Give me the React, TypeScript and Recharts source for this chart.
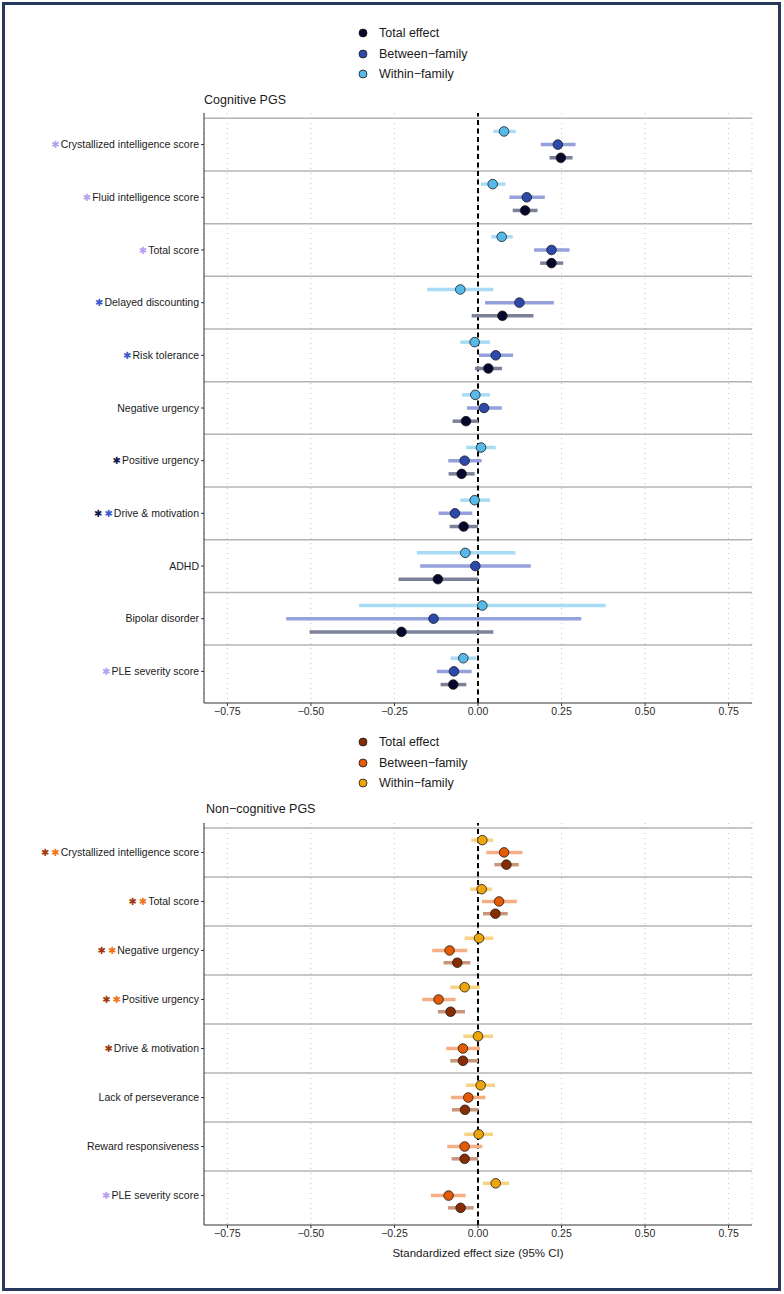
import { ScatterChart, Scatter, XAxis, YAxis, CartesianGrid, ReferenceLine, ErrorBar } from "recharts"

// outcomes, top row first
const cogOutcomes = [
  "Crystallized intelligence score",
  "Fluid intelligence score",
  "Total score",
  "Delayed discounting",
  "Risk tolerance",
  "Negative urgency",
  "Positive urgency",
  "Drive & motivation",
  "ADHD",
  "Bipolar disorder",
  "PLE severity score",
]
const cogStars = [["p"], ["p"], ["p"], ["b"], ["b"], [], ["n"], ["n", "b"], [], [], ["p"]]

// [estimate, lower, upper]
const cogTotal = [
  [0.248, 0.214, 0.283], [0.141, 0.104, 0.178], [0.22, 0.186, 0.255], [0.073, -0.019, 0.166],
  [0.031, -0.009, 0.072], [-0.036, -0.076, 0.0], [-0.049, -0.088, -0.01], [-0.043, -0.085, 0.0],
  [-0.12, -0.238, 0.0], [-0.229, -0.504, 0.046], [-0.074, -0.112, -0.035],
]
const cogBetween = [
  [0.239, 0.188, 0.292], [0.146, 0.094, 0.2], [0.22, 0.168, 0.274], [0.124, 0.021, 0.227],
  [0.053, 0.003, 0.105], [0.018, -0.033, 0.071], [-0.04, -0.089, 0.011], [-0.069, -0.118, -0.017],
  [-0.008, -0.173, 0.158], [-0.133, -0.574, 0.309], [-0.072, -0.123, -0.019],
]
const cogWithin = [
  [0.078, 0.046, 0.113], [0.044, 0.009, 0.082], [0.071, 0.04, 0.104], [-0.053, -0.152, 0.046],
  [-0.01, -0.053, 0.036], [-0.008, -0.048, 0.036], [0.009, -0.035, 0.053], [-0.01, -0.053, 0.036],
  [-0.038, -0.183, 0.112], [0.013, -0.356, 0.382], [-0.044, -0.082, -0.005],
]

const nonOutcomes = [
  "Crystallized intelligence score",
  "Total score",
  "Negative urgency",
  "Positive urgency",
  "Drive & motivation",
  "Lack of perseverance",
  "Reward responsiveness",
  "PLE severity score",
]
const nonStars = [["r", "o"], ["r", "o"], ["r", "o"], ["r", "o"], ["r"], [], [], ["p"]]

const nonTotal = [
  [0.085, 0.049, 0.122], [0.052, 0.015, 0.089], [-0.062, -0.103, -0.023], [-0.082, -0.12, -0.039],
  [-0.045, -0.083, 0.0], [-0.039, -0.078, 0.0], [-0.04, -0.079, 0.0], [-0.052, -0.09, -0.013],
]
const nonBetween = [
  [0.078, 0.025, 0.133], [0.063, 0.012, 0.116], [-0.085, -0.137, -0.032], [-0.118, -0.167, -0.067],
  [-0.045, -0.095, 0.006], [-0.029, -0.081, 0.022], [-0.04, -0.092, 0.013], [-0.088, -0.141, -0.037],
]
const nonWithin = [
  [0.013, -0.02, 0.045], [0.011, -0.023, 0.042], [0.003, -0.04, 0.046], [-0.04, -0.083, 0.005],
  [0.0, -0.044, 0.045], [0.008, -0.036, 0.051], [0.002, -0.041, 0.045], [0.053, 0.015, 0.093],
]

const seriesNames = ["Total effect", "Between\u2212family", "Within\u2212family"]
const xTicks = [-0.75, -0.5, -0.25, 0, 0.25, 0.5, 0.75]

const starColors: Record<string, string> = {
  p: "#b59ff0",
  b: "#3a5bcc",
  n: "#141a4a",
  r: "#a0380c",
  o: "#f2730f",
}

const FONT = "'Liberation Sans', Arial, Helvetica, sans-serif"

const cogStyle = [
  { fill: "#05082b", ci: "#7d8099", off: -0.25 },
  { fill: "#2b4aab", ci: "#94a1dc", off: 0 },
  { fill: "#57b9e7", ci: "#a8dcf5", off: 0.25 },
]
const nonStyle = [
  { fill: "#8a2c02", ci: "#c9967b", off: -0.25 },
  { fill: "#e55a05", ci: "#f6ae85", off: 0 },
  { fill: "#eea50a", ci: "#f8d382", off: 0.25 },
]

const fmtTick = (v: number) => (v < 0 ? "\u2212" + Math.abs(v).toFixed(2) : v.toFixed(2))

function toPoints(rows: number[][], n: number, off: number) {
  return rows.map((r, i) => ({ x: r[0], y: n - i + off, err: [r[0] - r[1], r[2] - r[0]] }))
}

function RowTick(props: any) {
  const { x, y, payload, outcomes, stars } = props
  const i = outcomes.length - payload.value
  const s: string[] = stars[i] || []
  return (
    <text x={x} y={y} dy="0.35em" textAnchor="end" fontSize={10.5} fill="#1a1a1a" fontFamily={FONT}>
      {s.map((k, j) => (
        <tspan key={j} fill={starColors[k]} fontFamily="DejaVu Sans" fontSize={10} dx={j ? 2 : 0}>
          {"\u2731"}
        </tspan>
      ))}
      <tspan dx={s.length ? 1 : 0}>{outcomes[i]}</tspan>
    </text>
  )
}

const dot = (fill: string) => (p: any) =>
  <circle cx={p.cx} cy={p.cy} r={4.8} fill={fill} stroke="#1a1a1a" strokeWidth={0.8} />

interface PanelProps {
  outcomes: string[]
  stars: string[][]
  rows: number[][][]
  styles: { fill: string; ci: string; off: number }[]
  height: number
  top: number
  xHeight: number
  bottom: number
  xLabel?: string
}

function ForestPanel({ outcomes, stars, rows, styles, height, top, xHeight, bottom, xLabel }: PanelProps) {
  const n = outcomes.length
  const rowTicks = outcomes.map((_, i) => i + 1)
  const seps = outcomes.map((_, i) => i + 1.5)
  return (
    <ScatterChart width={784} height={height} margin={{ top, right: 32, bottom, left: 0 }}>
      <CartesianGrid horizontal={false} stroke="#cccccc" strokeDasharray="1 4" strokeWidth={1.2} />
      {seps.map((b) => (
        <ReferenceLine key={b} y={b} stroke="#b4b4b4" strokeWidth={1.5} />
      ))}
      <XAxis
        type="number"
        dataKey="x"
        domain={[-0.82, 0.82]}
        ticks={xTicks}
        interval={0}
        allowDataOverflow
        tickFormatter={fmtTick}
        tickSize={3}
        stroke="#333"
        height={xHeight}
        tick={{ fontSize: 10.5, fill: "#2b2b2b", fontFamily: FONT }}
        label={
          xLabel
            ? { value: xLabel, position: "insideBottom", offset: 8, fontSize: 11.5, fill: "#1a1a1a", fontFamily: FONT }
            : undefined
        }
      />
      <YAxis
        type="number"
        dataKey="y"
        domain={[0.4, n + 0.6]}
        ticks={rowTicks}
        interval={0}
        allowDataOverflow
        width={204}
        tickSize={3}
        stroke="#333"
        tick={(p: any) => <RowTick {...p} outcomes={outcomes} stars={stars} />}
      />
      <ReferenceLine x={0} stroke="#000" strokeWidth={2} strokeDasharray="5 3.5" />
      {rows.map((r, k) => (
        <Scatter
          key={seriesNames[k]}
          name={seriesNames[k]}
          data={toPoints(r, n, styles[k].off)}
          shape={dot(styles[k].fill)}
          isAnimationActive={false}
        >
          <ErrorBar dataKey="err" direction="x" width={0} stroke={styles[k].ci} strokeWidth={3.5} isAnimationActive={false} />
        </Scatter>
      ))}
    </ScatterChart>
  )
}

function LegendBox({ styles, top }: { styles: { fill: string }[]; top: number }) {
  return (
    <div style={{ position: "absolute", left: 358, top, fontFamily: FONT, fontSize: 12.5, color: "#1a1a1a" }}>
      {seriesNames.map((name, k) => (
        <div key={name} style={{ display: "flex", alignItems: "center", height: 20.5 }}>
          <svg width={10} height={10} style={{ marginRight: 11 }}>
            <circle cx={5} cy={5} r={4} fill={styles[k].fill} stroke="#1a1a1a" strokeWidth={0.8} />
          </svg>
          <span>{name}</span>
        </div>
      ))}
    </div>
  )
}

export default function App() {
  return (
    <div style={{ position: "absolute", left: 0, top: 0, width: 784, height: 1294, background: "#fff", fontFamily: FONT }}>
      <div
        style={{
          position: "absolute",
          left: 2,
          top: 2,
          width: 779,
          height: 1289,
          boxSizing: "border-box",
          border: "3px solid #28395e",
        }}
      />
      <LegendBox styles={cogStyle} top={23} />
      <div style={{ position: "absolute", left: 204, top: 93, fontSize: 12.5, lineHeight: "14px", color: "#1a1a1a" }}>
        Cognitive PGS
      </div>
      <div style={{ position: "absolute", left: 0, top: 0 }}>
        <ForestPanel
          outcomes={cogOutcomes}
          stars={cogStars}
          rows={[cogTotal, cogBetween, cogWithin]}
          styles={cogStyle}
          height={730}
          top={113}
          xHeight={25}
          bottom={2}
        />
      </div>
      <LegendBox styles={nonStyle} top={732} />
      <div style={{ position: "absolute", left: 206, top: 802, fontSize: 12.5, lineHeight: "14px", color: "#1a1a1a" }}>
        Non{"\u2212"}cognitive PGS
      </div>
      <div style={{ position: "absolute", left: 0, top: 730 }}>
        <ForestPanel
          outcomes={nonOutcomes}
          stars={nonStars}
          rows={[nonTotal, nonBetween, nonWithin]}
          styles={nonStyle}
          height={560}
          top={93}
          xHeight={40}
          bottom={25}
          xLabel="Standardized effect size (95% CI)"
        />
      </div>
    </div>
  )
}
